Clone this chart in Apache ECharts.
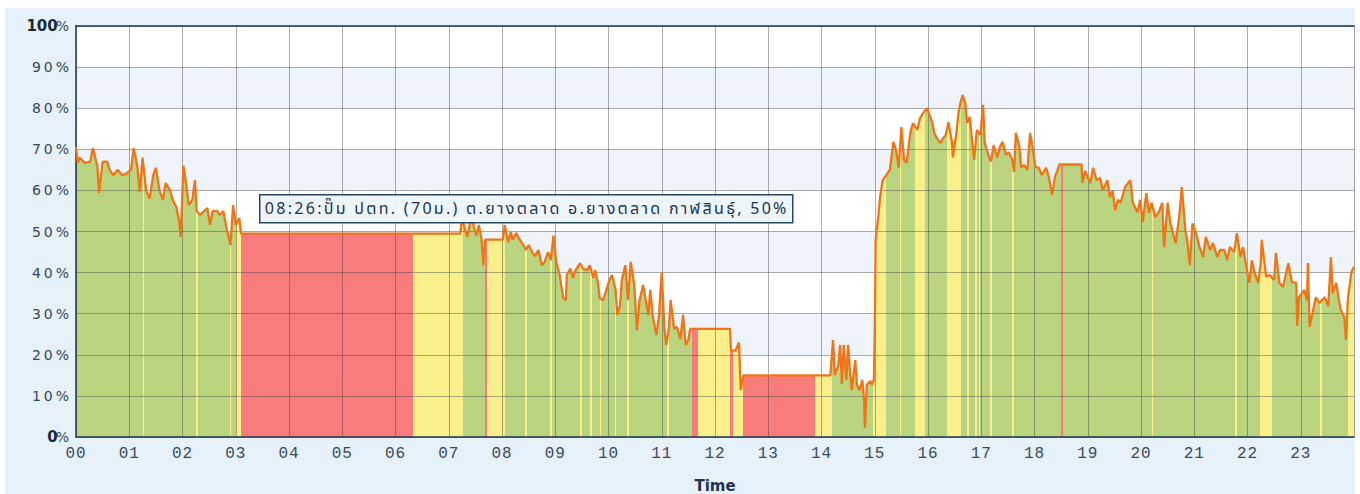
<!DOCTYPE html>
<html><head><meta charset="utf-8">
<script src="https://cdn.jsdelivr.net/npm/echarts@6/dist/echarts.min.js"></script>
<style>
html,body{margin:0;padding:0;background:#ffffff;width:1360px;height:494px;overflow:hidden}
#chart{position:absolute;left:5px;top:8px;width:1350px;height:486px}
#chart text[fill="#34475a"]{letter-spacing:3px}
#chart text[fill="#3a4b5d"]{letter-spacing:1px}
#chart text[fill="#1a3350"]{letter-spacing:2.3px}
</style></head><body><div id="chart"></div>
<script>
// ---- data (time in minutes since 00:00, level in %) ----
const timeMin = [0,2,4,10,16,19,24,26,30,35,38,42,47,52,56,62,65,69,72,75,79,83,87,90,94,98,101,106,109,113,116,118,121,124,127,131,134,136,140,143,148,151,154,159,162,166,170,174,177,180,184,186,433,
434,436,441,444,447,451,454,457,459,461,481,483,487,490,492,496,500,504,507,510,514,517,521,525,528,532,535,538,541,545,549,552,553,557,560,563,568,571,576,579,583,585,588,590,594,597,601,604,608,610,613,615,619,622,625,629,632,635,639,642,645,647,650,654,657,659,660,663,665,668,670,674,677,681,684,687,690,692,737,738,743,747,749,752,850,
853,855,859,861,863,865,868,870,872,874,878,880,883,886,888,889,891,895,897,899,900,901,904,906,909,913,917,921,924,927,930,933,936,940,943,948,951,955,959,961,965,967,970,974,977,980,983,985,987,988,992,994,996,999,1002,1004,1007,1010,1012,1015,1019,1022,1024,1028,1031,1034,1038,1041,1044,1048,1051,1055,1057,1059,1063,1065,1068,1072,1075,1078,1081,1085,1088,1093,1096,1100,1103,1106,1108,1133,
1134,1137,1143,1146,1150,1154,1157,1162,1165,1168,1171,1174,1177,1182,1188,1191,1196,1199,1202,1206,1209,1212,1216,1220,1224,1226,1230,1233,1236,1239,1243,1246,1250,1252,1255,1258,1262,1266,1270,1273,1278,1281,1286,1289,1294,1297,1300,1305,1308,1312,1315,1318,1322,1325,1328,1332,1335,1336,1341,1345,1350,1352,1356,1360,1366,1370,1375,1376,1378,1384,1387,1388,1390,1397,1401,1404,1407,1411,1414,1416,1420,1423,1425,1429,1431,1433,1437,1440];
const levelPct = [70.5,66.7,68,66.7,67,70.3,66,59.4,67,67,65,63.7,65,63.7,64,65,70.3,66,59.6,68,60,58,63.7,65.5,60,57.7,61.8,60,57.7,56,52.8,48.7,66,61.8,56.4,57.7,62.5,55,54,54.7,55.7,51.6,55,55,54,55,50.4,46.7,56.4,51.6,53.3,49.5,49.5,
51.6,52.3,48.7,52.3,52.3,49,51.6,48,41.8,48,48,51.6,47.4,49.9,48,49.6,48,46.7,45.5,46.7,45,44,45.5,41.8,42.6,45,43,49,42.6,39.4,33.8,33.3,39.4,41,38.7,40.6,42.3,41,40.6,41.8,38.7,40.6,37.7,33.8,33.3,35.3,38.2,39.4,35.8,29.7,32.1,38.2,41.8,33.3,42.6,37,26,33.3,37,33.3,29.7,35.8,29.2,24.8,29.7,37,40,26.3,22.4,26.3,33.3,26.3,26.8,23.8,29.7,22.4,23.6,26.3,26.3,21,21,23,11.4,15,15,
23.6,15.1,17.5,22.4,12.9,22.4,13.9,22.4,16.3,11.4,18.7,12.7,11.4,13.9,9,2.2,12.7,13.6,12.7,13.9,25,48,53.5,58.4,62.5,63.7,65,71.8,69.8,65.5,75.4,67.4,66.7,74,76.4,74.7,77.6,79,80,78.8,76.4,74,72.7,71.5,72.7,73.5,76.6,74.2,71.8,68,74,78.3,80.8,83.2,81.3,76.4,77.9,71.5,67.4,74.7,73.5,80.8,71.5,68.6,67,71,68,70.6,71.8,68.6,69.3,67.4,64.5,74,70.6,65.5,66.2,65,74,70.3,65.7,65.5,63.7,65.5,63.3,58.9,63.3,65,66.3,66.3,
61.8,64.7,61.8,65.5,62.5,63,60,62.5,58.4,60,55.2,57.7,57,60.8,62.5,57,54.7,57.7,52.3,59.4,54.5,57,53.5,54.7,57,46.2,57,52.3,49.6,47.2,53.5,60.8,50.4,48,41.8,52,49.6,46.2,43.8,48.7,45.5,47.2,43.8,45.5,45.5,43,46.2,45,49.6,43.8,46.2,42.3,37.5,43,40,37.5,42.3,48,39,39.4,38.2,44.8,37.5,36.5,42.3,37.7,37.5,27,34,35.8,33.3,42.3,26.8,34,32.6,33.3,34,31.9,43.8,35,37.5,33.3,31,29.2,23.6,33.3,40,41.4];

// pump status segments: start minute and state (G=normal, Y=warning, R=offline)
const stateStart = [0,75,77,135,137,173,175,180,186,380,436,461,463,483,506,508,534,536,568,570,579,581,590,592,607,609,621,623,666,668,694,701,737,740,752,833,852,898,913,928,930,945,957,981,997,1004,1006,1013,1015,1017,1019,1030,1032,1055,1057,1110,1112,1212,1214,1306,1308,1334,1348,1402,1404,1433];
const stateCode  = ['G','Y','G','Y','G','Y','G','Y','R','Y','G','R','Y','G','Y','G','Y','G','Y','G','Y','G','Y','G','Y','G','Y','G','Y','G','R','Y','R','Y','R','Y','G','Y','G','Y','G','Y','G','Y','G','Y','G','Y','G','Y','G','Y','G','Y','G','R','G','Y','G','Y','G','Y','G','Y','G','Y'];
const dayEnd = 1440;

const hourLabels = ['00','01','02','03','04','05','06','07','08','09','10','11','12','13','14','15','16','17','18','19','20','21','22','23'];
const yTicks = [0,10,20,30,40,50,60,70,80,90,100];
const tipText = '08:26:ปั๊ม ปตท. (70ม.) ต.ยางตลาด อ.ยางตลาด กาฬสินธุ์, 50%';
const axisTitle = 'Time';

// ---- styling ----
const stateColor = {G:'#bbd480', Y:'#f9f08c', R:'#f87c7c'};
const gridLine = {color:'rgba(60,60,60,0.42)', width:1};
const frameLine = {color:'#1d3754', width:1.5};

const seriesData = timeMin.map((t,i)=>[t, levelPct[i]]);
const pieces = stateStart.map((s,i)=>{
  const e = i+1 < stateStart.length ? stateStart[i+1] : dayEnd;
  const p = {gte:s, color:stateColor[stateCode[i]]};
  if (i+1 < stateStart.length) p.lt = e; else p.lte = e;
  return p;
});

const chart = echarts.init(document.getElementById('chart'), null, {renderer:'svg'});
const gridPos = {left:71, top:18, width:1278, height:411, containLabel:false, outerBoundsMode:'none'};
const yMin = yTicks[0], yMax = yTicks[yTicks.length-1];
chart.setOption({
  animation:false,
  backgroundColor:'#e7f1f9',
  grid:[Object.assign({}, gridPos), Object.assign({}, gridPos)],
  visualMap:{show:false, type:'piecewise', seriesIndex:0, dimension:0, pieces:pieces},
  xAxis:[
    {gridIndex:0, type:'value', min:0, max:dayEnd, interval:60, show:false},
    {gridIndex:1, type:'value', min:0, max:dayEnd, interval:60, position:'bottom', z:3,
      axisLine:{show:true, onZero:false, lineStyle:frameLine}, axisTick:{show:false},
      splitLine:{show:true, lineStyle:gridLine},
      axisLabel:{margin:9, color:'#3a4b5d', fontFamily:'Liberation Mono, monospace', fontSize:16,
        formatter:v=> (v/60 < hourLabels.length) ? hourLabels[v/60] : ''},
      name:axisTitle, nameLocation:'middle', nameGap:41,
      nameTextStyle:{color:'#1b3452', fontWeight:'bold', fontSize:15, fontFamily:'DejaVu Sans, sans-serif'}},
    {gridIndex:1, type:'value', min:0, max:dayEnd, interval:60, position:'top', z:3,
      axisLine:{show:true, onZero:false, lineStyle:frameLine}, axisTick:{show:false},
      axisLabel:{show:false}, splitLine:{show:false}}
  ],
  yAxis:[
    {gridIndex:0, type:'value', min:yMin, max:yMax, interval:yTicks[1]-yTicks[0],
      axisLine:{show:false}, axisTick:{show:false}, axisLabel:{show:false}, splitLine:{show:false},
      splitArea:{show:true, areaStyle:{color:['#eef4fa','#ffffff']}}},
    {gridIndex:1, type:'value', min:yMin, max:yMax, interval:yTicks[1]-yTicks[0], z:3,
      axisLine:{show:true, onZero:false, lineStyle:frameLine}, axisTick:{show:false},
      splitLine:{show:true, lineStyle:gridLine},
      axisLabel:{margin:4,
        formatter:v=> (v===yMax || v===yMin) ? '{b|'+v+'}{n|%}' : '{n|'+v+'%}',
        rich:{
          b:{fontWeight:'bold', color:'#16293e', fontSize:15, padding:[0,1,0,0], fontFamily:'DejaVu Sans, sans-serif'},
          n:{color:'#34475a', fontSize:14, fontFamily:'DejaVu Sans, sans-serif'}
        }}}
  ],
  series:[
    {type:'line', xAxisIndex:0, yAxisIndex:0, data:seriesData, showSymbol:false, silent:true, z:2,
      lineStyle:{width:0, opacity:0}, areaStyle:{opacity:1}},
    {type:'line', xAxisIndex:0, yAxisIndex:0, data:seriesData, showSymbol:false, silent:true, z:4,
      color:'#f07519', lineStyle:{width:2.3, color:'#f07519'}}
  ],
  graphic:[{type:'group', left:254, top:186, z:20, children:[
    {type:'rect', z:20, shape:{x:0,y:0,width:533,height:28}, style:{fill:'rgba(238,245,251,0.93)', stroke:'#2a4763', lineWidth:1.5}},
    {type:'text', z:21, x:5, y:14, style:{text:tipText, fill:'#1a3350', fontSize:16, fontFamily:'Tahoma, "Noto Sans Thai", "Noto Sans", "DejaVu Sans", sans-serif', verticalAlign:'middle'}}
  ]}]
});
</script></body></html>
